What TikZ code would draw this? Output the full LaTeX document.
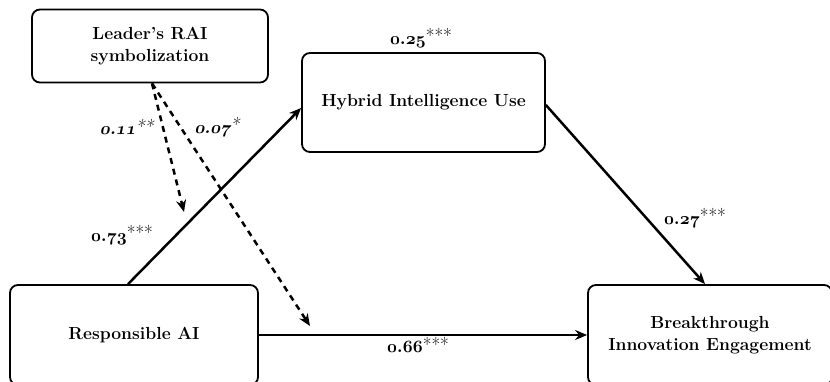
\documentclass[tikz,border=0pt]{standalone}
\usepackage{tikz}
\usetikzlibrary{arrows.meta,positioning}

\newcommand{\osn}[1]{{\fontencoding{OML}\fontfamily{cmm}\fontseries{b}\fontshape{it}\selectfont #1}}
\newcommand{\pcoef}[3]{\osn{#1}.\osn{#2}\raisebox{1.5pt}{\mdseries #3}}

\begin{document}
\begin{tikzpicture}[x=1pt,y=-1pt,>={Stealth[length=12pt,width=10pt]},
  box/.style={draw,line width=1.8pt,rounded corners=8pt,align=center,inner sep=0pt,
    font=\fontsize{17.5}{22}\selectfont\bfseries},
  coef/.style={inner sep=0pt,font=\fontsize{19}{21}\selectfont\bfseries},
  every edge/.style={draw,line width=2.5pt},
  modline/.style={dash pattern=on 6pt off 5pt}]
  \clip (0,0) rectangle (830,382);

  \node[box,minimum width=236pt,minimum height=73pt]  (lead) at (150,46)    {Leader's RAI\\symbolization};
  \node[box,minimum width=243pt,minimum height=99pt]  (hyb)  at (423.5,102.5) {Hybrid Intelligence Use};
  \node[box,minimum width=248pt,minimum height=100pt] (rai)  at (134,335)   {Responsible AI};
  \node[box,minimum width=244pt,minimum height=100pt] (bie)  at (710,335)   {Breakthrough\\Innovation Engagement};

  \coordinate (m1) at (184,212);
  \coordinate (m2) at (310,326);

  \path[->]
     ([xshift=-6pt]rai.north) edge ([yshift=-5.5pt]hyb.west)
     ([yshift=-2.5pt]hyb.east) edge ([xshift=-5pt]bie.north)
     (rai.east)               edge (bie.west)
     ([xshift=2pt]lead.south) edge[modline] (m1)
     ([xshift=2pt]lead.south) edge[modline] (m2)
  ;

  \node[coef] (c73) at (122,235) {\pcoef{0}{73}{***}};
  \node[coef] (c25) at (421,38)  {\pcoef{0}{25}{***}};
  \node[coef] (c27) at (695,218) {\pcoef{0}{27}{***}};
  \node[coef] (c66) at (418,345) {\pcoef{0}{66}{***}};
  % italic moderation paths
  \begin{scope}[shift={(128,127)},xslant=0.2]
    \node[coef,transform shape] (c11) at (0,0) {\pcoef{0}{11}{**}};
  \end{scope}
  \begin{scope}[shift={(218,127)},xslant=0.2]
    \node[coef,transform shape] (c07) at (0,0) {\pcoef{0}{07}{*}};
  \end{scope}
\end{tikzpicture}
\end{document}
